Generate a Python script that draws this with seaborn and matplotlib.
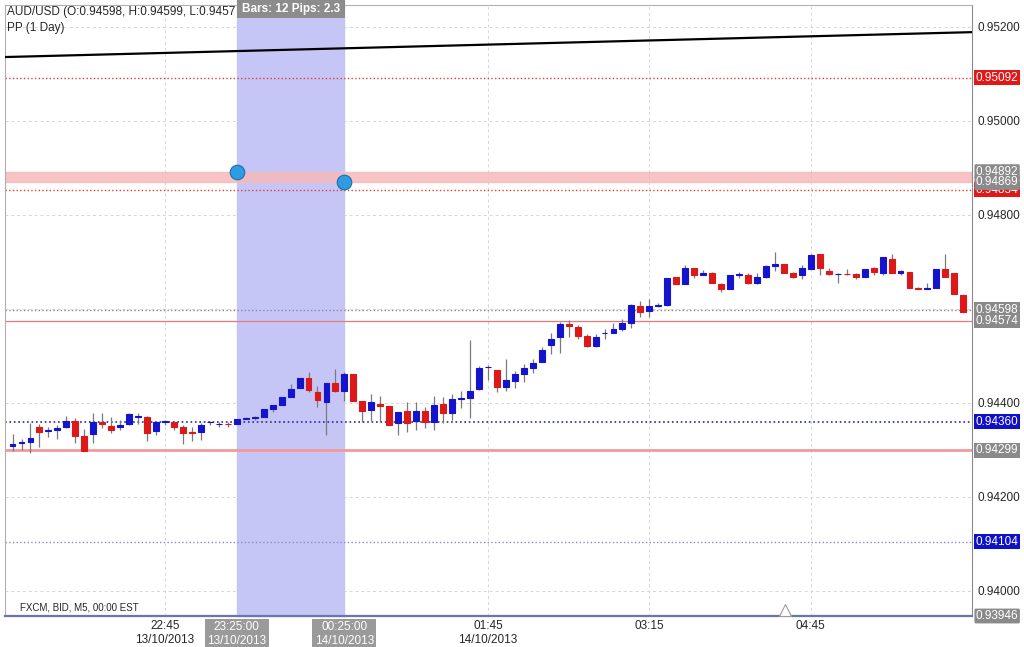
import numpy as np
import pandas as pd
import matplotlib
matplotlib.use("Agg")
import matplotlib.pyplot as plt
import matplotlib.patches as mpatches
import seaborn as sns

# AUD/USD M5 candles, 21:20 13/10/2013 -> 06:10 14/10/2013
opens = [0.94307, 0.94315, 0.94317, 0.94349, 0.94339, 0.94342, 0.94348, 0.94362, 0.94329, 0.94334,
         0.94359, 0.94351, 0.94348, 0.94354, 0.94370, 0.94370, 0.94339, 0.94358, 0.94359, 0.94348,
         0.94337, 0.94337, 0.94358, 0.94354, 0.94355, 0.94354, 0.94366, 0.94368, 0.94370, 0.94387,
         0.94395, 0.94413, 0.94432, 0.94452, 0.94422, 0.94402, 0.94442, 0.94426, 0.94461, 0.94404,
         0.94385, 0.94397, 0.94393, 0.94356, 0.94383, 0.94361, 0.94383, 0.94360, 0.94397, 0.94378,
         0.94409, 0.94411, 0.94429, 0.94476, 0.94470, 0.94434, 0.94447, 0.94461, 0.94475, 0.94486,
         0.94522, 0.94539, 0.94567, 0.94561, 0.94542, 0.94520, 0.94548, 0.94549, 0.94557, 0.94570,
         0.94607, 0.94595, 0.94607, 0.94608, 0.94668, 0.94652, 0.94686, 0.94673, 0.94677, 0.94653,
         0.94642, 0.94673, 0.94672, 0.94654, 0.94668, 0.94692, 0.94695, 0.94677, 0.94672, 0.94684,
         0.94717, 0.94680, 0.94674, 0.94675, 0.94675, 0.94668, 0.94686, 0.94677, 0.94706, 0.94677,
         0.94679, 0.94645, 0.94643, 0.94644, 0.94684, 0.94677, 0.94629]
closes = [0.94312, 0.94316, 0.94325, 0.94338, 0.94343, 0.94346, 0.94362, 0.94329, 0.94298, 0.94359,
          0.94354, 0.94341, 0.94353, 0.94376, 0.94371, 0.94336, 0.94359, 0.94362, 0.94349, 0.94335,
          0.94336, 0.94352, 0.94359, 0.94355, 0.94354, 0.94365, 0.94368, 0.94369, 0.94386, 0.94395,
          0.94412, 0.94429, 0.94452, 0.94427, 0.94406, 0.94442, 0.94425, 0.94461, 0.94404, 0.94383,
          0.94401, 0.94394, 0.94353, 0.94380, 0.94356, 0.94383, 0.94360, 0.94395, 0.94378, 0.94407,
          0.94410, 0.94426, 0.94475, 0.94477, 0.94434, 0.94449, 0.94461, 0.94474, 0.94484, 0.94512,
          0.94536, 0.94567, 0.94563, 0.94542, 0.94520, 0.94540, 0.94549, 0.94557, 0.94570, 0.94609,
          0.94593, 0.94607, 0.94608, 0.94666, 0.94652, 0.94686, 0.94672, 0.94677, 0.94654, 0.94642,
          0.94672, 0.94674, 0.94654, 0.94667, 0.94691, 0.94695, 0.94677, 0.94668, 0.94686, 0.94715,
          0.94686, 0.94675, 0.94675, 0.94674, 0.94668, 0.94684, 0.94678, 0.94710, 0.94677, 0.94680,
          0.94645, 0.94643, 0.94644, 0.94684, 0.94668, 0.94631, 0.94594]
highs = [0.94334, 0.94323, 0.94357, 0.94355, 0.94349, 0.94353, 0.94372, 0.94368, 0.94344, 0.94379,
         0.94379, 0.94370, 0.94363, 0.94378, 0.94378, 0.94372, 0.94359, 0.94364, 0.94361, 0.94353,
         0.94348, 0.94356, 0.94362, 0.94360, 0.94358, 0.94366, 0.94370, 0.94372, 0.94387, 0.94395,
         0.94413, 0.94439, 0.94453, 0.94465, 0.94436, 0.94443, 0.94471, 0.94465, 0.94462, 0.94404,
         0.94419, 0.94415, 0.94393, 0.94381, 0.94401, 0.94402, 0.94392, 0.94415, 0.94412, 0.94419,
         0.94426, 0.94534, 0.94478, 0.94480, 0.94470, 0.94493, 0.94467, 0.94482, 0.94493, 0.94519,
         0.94548, 0.94572, 0.94576, 0.94565, 0.94547, 0.94547, 0.94557, 0.94569, 0.94579, 0.94610,
         0.94616, 0.94621, 0.94612, 0.94666, 0.94668, 0.94693, 0.94686, 0.94683, 0.94679, 0.94654,
         0.94672, 0.94679, 0.94677, 0.94677, 0.94693, 0.94720, 0.94695, 0.94679, 0.94693, 0.94717,
         0.94717, 0.94686, 0.94677, 0.94684, 0.94677, 0.94684, 0.94688, 0.94710, 0.94717, 0.94683,
         0.94679, 0.94646, 0.94655, 0.94684, 0.94717, 0.94677, 0.94629]
lows = [0.94297, 0.94300, 0.94293, 0.94306, 0.94327, 0.94323, 0.94347, 0.94315, 0.94298, 0.94314,
        0.94346, 0.94335, 0.94342, 0.94353, 0.94355, 0.94319, 0.94332, 0.94353, 0.94341, 0.94312,
        0.94319, 0.94321, 0.94353, 0.94349, 0.94349, 0.94354, 0.94365, 0.94363, 0.94370, 0.94381,
        0.94395, 0.94413, 0.94432, 0.94422, 0.94390, 0.94332, 0.94422, 0.94404, 0.94403, 0.94359,
        0.94361, 0.94359, 0.94352, 0.94332, 0.94337, 0.94342, 0.94346, 0.94342, 0.94356, 0.94363,
        0.94388, 0.94367, 0.94428, 0.94449, 0.94422, 0.94424, 0.94431, 0.94445, 0.94463, 0.94486,
        0.94503, 0.94506, 0.94540, 0.94536, 0.94518, 0.94519, 0.94536, 0.94548, 0.94553, 0.94560,
        0.94582, 0.94583, 0.94604, 0.94607, 0.94652, 0.94652, 0.94666, 0.94672, 0.94654, 0.94636,
        0.94642, 0.94665, 0.94652, 0.94653, 0.94665, 0.94681, 0.94676, 0.94665, 0.94663, 0.94684,
        0.94672, 0.94673, 0.94654, 0.94672, 0.94663, 0.94668, 0.94673, 0.94672, 0.94677, 0.94672,
        0.94645, 0.94642, 0.94642, 0.94644, 0.94668, 0.94631, 0.94594]

# time axis ticks (bar index from 21:20)
tick_pos = [17, 35, 53, 71, 89]
tick_labels = ["22:45\n13/10/2013", "00:15", "01:45\n14/10/2013", "03:15", "04:45"]

price_ticks = [0.952, 0.950, 0.948, 0.946, 0.944, 0.942, 0.940]
price_tick_labels = ["0.95200", "0.95000", "0.94800", "", "0.94400", "0.94200", "0.94000"]

# pivot line (PP 1 Day) end values
pp_x = [-0.84, 106.97]
pp_y = [0.95136, 0.95189]

# horizontal levels: value, colour, style, width, label box colour
levels = [
    (0.95092, "#e23b3b", ":", 1.0, "#e01818"),
    (0.94854, "#e23b3b", ":", 1.0, "#e01818"),
    (0.94598, "#8a8a8a", ":", 1.0, "#8a8a8a"),
    (0.94574, "#e87878", "-", 0.9, "#8a8a8a"),
    (0.94360, "#2a2a9a", ":", 1.2, "#1010c8"),
    (0.94299, "#f29a9a", "-", 2.0, "#8a8a8a"),
    (0.94104, "#8a8ac8", ":", 1.0, "#1010c8"),
]
zone_low, zone_high = 0.94869, 0.94892
sel_start, sel_end = 25, 37          # 23:25 -> 00:25 selection (12 bars)
sel_prices = [0.94892, 0.94869]
y_bottom, y_top = 0.93946, 0.952468

df = pd.DataFrame({"open": opens, "high": highs, "low": lows, "close": closes})
df["idx"] = np.arange(len(df))
df["up"] = df["close"] >= df["open"]

sns.set_style("white")
plt.rcParams["font.family"] = ["Liberation Sans", "DejaVu Sans"]

fig = plt.figure(figsize=(10.24, 6.47), dpi=100)
ax = fig.add_axes([5 / 1024, 31 / 647, 967 / 1024, 611 / 647])
ax.set_xlim(-0.84, 106.97)
ax.set_ylim(y_bottom, y_top)

# grid
for p in price_ticks:
    ax.axhline(p, color="#d6d6d6", ls=(0, (3, 3)), lw=0.7, zorder=0)
for t in tick_pos:
    ax.axvline(t, color="#d6d6d6", ls=(0, (3, 3)), lw=0.7, zorder=0)

# selection span
ax.axvspan(sel_start, sel_end, ymin=0, ymax=1 + 5 / 611, color="#c6c6f6", zorder=1, clip_on=False)

# zone and levels
ax.axhspan(zone_low, zone_high, color="#f6b9bb", alpha=0.85, zorder=2)
for val, col, ls, lw, _ in levels:
    ax.axhline(val, color=col, ls=ls, lw=lw, zorder=2)

sns.lineplot(x=pp_x, y=pp_y, color="black", lw=1.6, ax=ax, zorder=3)

# candles
colors = np.where(df["up"], "#1414cc", "#dd1818")
ax.vlines(df["idx"], df["low"], df["high"], color="#7a7a7a", lw=0.9, zorder=4)
body = (df["close"] - df["open"]).abs()
ax.bar(df["idx"], body, bottom=df[["open", "close"]].min(axis=1), width=0.66,
       color=colors, edgecolor=colors, linewidth=0.8, zorder=5)

# selection markers
sns.scatterplot(x=[sel_start, sel_end], y=sel_prices, s=110, color="#2f9be0",
                edgecolor="#1a6fb0", linewidth=0.8, ax=ax, zorder=6, clip_on=False)

# axes cosmetics
for s in ["top", "left"]:
    ax.spines[s].set_color("#b0b0b0")
    ax.spines[s].set_linewidth(0.8)
ax.spines["right"].set_color("#8a8a8a")
ax.spines["bottom"].set_color("#6c74aa")
ax.spines["bottom"].set_linewidth(1.6)

ax.yaxis.tick_right()
ax.set_yticks(price_ticks)
ax.set_yticklabels(price_tick_labels, fontsize=8.5)
ax.tick_params(axis="y", length=0, pad=4)
ax.set_xticks(tick_pos)
ax.set_xticklabels(tick_labels, fontsize=8.5, linespacing=1.25)
ax.tick_params(axis="x", length=0, pad=3)

# price boxes on right axis
tr = ax.get_yaxis_transform()
for val, _, _, _, box in levels:
    ax.text(1.004, val, f"{val:.5f}", transform=tr, fontsize=8.5, color="white", va="center", ha="left",
            bbox=dict(boxstyle="square,pad=0.12", fc=box, ec="none"), zorder=10, clip_on=False)
for val in [zone_high, zone_low, y_bottom]:
    ax.text(1.004, val, f"{val:.5f}", transform=tr, fontsize=8.5, color="white", va="center", ha="left",
            bbox=dict(boxstyle="round,pad=0.12", fc="#8a8a8a", ec="none"), zorder=11, clip_on=False)

# selection time boxes below axis
xtr = ax.get_xaxis_transform()
for pos, lab in [(sel_start, "23:25:00\n13/10/2013"), (sel_end, "00:25:00\n14/10/2013")]:
    ax.text(pos, -0.0085, lab, transform=xtr, fontsize=8.5, color="white", ha="center", va="top",
            linespacing=1.25, bbox=dict(boxstyle="square,pad=0.2", fc="#9a9a9a", ec="none"),
            zorder=12, clip_on=False)

# small marker at bottom
ax.plot([86.1], [0.93958], marker="^", ms=9, mfc="white", mec="#9a9a9a", mew=0.8, zorder=7)

# header texts
fig.text(7 / 1024, 1 - 12 / 647, "AUD/USD (O:0.94598, H:0.94599, L:0.9457", fontsize=8.5, va="center")
fig.text(7 / 1024, 1 - 28 / 647, "PP (1 Day)", fontsize=8.5, va="center")
fig.patches.append(mpatches.Rectangle((237 / 1024, 1 - 18 / 647), 108 / 1024, 18 / 647,
                                      transform=fig.transFigure, fc="#8c8c8c", ec="none", zorder=20))
fig.text(291 / 1024, 1 - 9 / 647, "Bars: 12 Pips: 2.3", fontsize=8.5, color="white",
         ha="center", va="center", fontweight="bold", zorder=21)
fig.text(20 / 1024, 1 - 607 / 647, "FXCM, BID, M5, 00:00 EST", fontsize=7, va="center")

fig.savefig("out.png", dpi=100)
